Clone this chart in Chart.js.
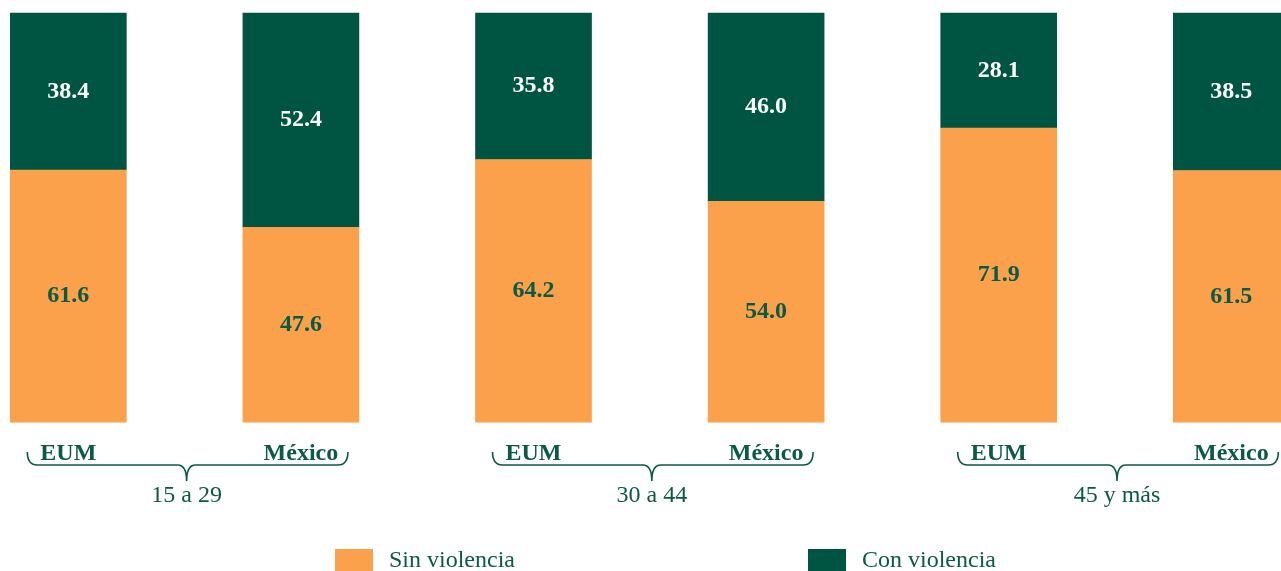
<!DOCTYPE html>
<html>
<head>
<meta charset="utf-8">
<script src="https://cdn.jsdelivr.net/npm/chart.js@4"></script>
<style>
  html, body { margin: 0; padding: 0; background: #fff; }
  #wrap { width: 1281px; height: 571px; position: relative; }
</style>
</head>
<body>
<div id="wrap"><canvas id="violenceChart"></canvas></div>
<script>
const groups = ['15 a 29', '30 a 44', '45 y más'];
const places = ['EUM', 'México', 'EUM', 'México', 'EUM', 'México'];
const sinViolencia = [61.6, 47.6, 64.2, 54.0, 71.9, 61.5];
const conViolencia = [38.4, 52.4, 35.8, 46.0, 28.1, 38.5];
const seriesLabels = ['Sin violencia', 'Con violencia'];

const orange = '#fba04b';
const green = '#005542';
const textGreen = '#0a5a45';
const serif = "'Liberation Serif', 'Times New Roman', serif";

// value labels in the middle of each segment
const valueLabels = {
    id: 'valueLabels',
    afterDatasetsDraw(chart) {
        const ctx = chart.ctx;
        ctx.save();
        ctx.font = 'bold 24px ' + serif;
        ctx.textAlign = 'center';
        ctx.textBaseline = 'middle';
        chart.data.datasets.forEach((ds, di) => {
            chart.getDatasetMeta(di).data.forEach((bar, i) => {
                ctx.fillStyle = di === 0 ? textGreen : '#ffffff';
                ctx.fillText(ds.data[i].y.toFixed(1), bar.x, (bar.y + bar.base) / 2);
            });
        });
        ctx.restore();
    }
};

// braces under each pair of bars, group names, legend
const braces = {
    id: 'braces',
    afterDraw(chart) {
        const ctx = chart.ctx;
        const xs = chart.scales.x;
        ctx.save();
        ctx.strokeStyle = textGreen;
        ctx.lineWidth = 1.6;
        ctx.fillStyle = textGreen;
        ctx.font = '24px ' + serif;
        ctx.textAlign = 'center';
        ctx.textBaseline = 'middle';
        groups.forEach((g, gi) => {
            const a = xs.getPixelForValue(gi * 2);
            const b = xs.getPixelForValue(gi * 2 + 1);
            const x0 = a - 41, x1 = b + 47;
            const cx = (a + b) / 2 + 2;
            const top = 452, mid = 465, tip = 481;
            ctx.beginPath();
            ctx.moveTo(x0, top);
            ctx.quadraticCurveTo(x0, mid, x0 + 10, mid);
            ctx.lineTo(cx - 9, mid);
            ctx.quadraticCurveTo(cx, mid, cx, tip);
            ctx.quadraticCurveTo(cx, mid, cx + 9, mid);
            ctx.lineTo(x1 - 10, mid);
            ctx.quadraticCurveTo(x1, mid, x1, top);
            ctx.stroke();
            ctx.fillText(g, cx, 496);
        });

        // legend
        const items = [
            { x: 335, color: orange, label: seriesLabels[0] },
            { x: 808, color: green, label: seriesLabels[1] }
        ];
        ctx.textAlign = 'left';
        items.forEach(it => {
            ctx.fillStyle = it.color;
            ctx.fillRect(it.x, 549, 38, 24);
            ctx.fillStyle = textGreen;
            ctx.fillText(it.label, it.x + 54, 561);
        });
        ctx.restore();
    }
};

const ctx = document.getElementById('violenceChart').getContext('2d');

const chart = new Chart(ctx, {
    type: 'bar',
    data: {
        datasets: [
            {
                label: seriesLabels[0],
                data: sinViolencia.map((v, i) => ({ x: i, y: v })),
                backgroundColor: orange,
                barThickness: 116,
                clip: false
            },
            {
                label: seriesLabels[1],
                data: conViolencia.map((v, i) => ({ x: i, y: v })),
                backgroundColor: green,
                barThickness: 116,
                clip: false
            }
        ]
    },
    options: {
        responsive: true,
        maintainAspectRatio: false,
        animation: false,
        layout: {
            padding: { top: 13, bottom: 86, left: 0, right: 0 }
        },
        scales: {
            x: {
                type: 'linear',
                stacked: true,
                offset: false,
                min: -0.2937,
                max: 5.2136,
                afterBuildTicks: (axis) => {
                    axis.ticks = places.map((_, i) => ({ value: i }));
                },
                afterFit: (axis) => {
                    // let the bars use the full width
                    axis.paddingLeft = 0;
                    axis.paddingRight = 0;
                },
                grid: { display: false, drawTicks: false },
                border: { display: false },
                ticks: {
                    autoSkip: false,
                    maxRotation: 0,
                    padding: 17,
                    color: textGreen,
                    font: { family: serif, size: 24, weight: 'bold' },
                    callback: (value) => places[value]
                }
            },
            y: {
                stacked: true,
                min: 0,
                max: 100,
                display: false
            }
        },
        plugins: {
            legend: { display: false },
            tooltip: { enabled: false }
        }
    },
    plugins: [valueLabels, braces]
});
</script>
</body>
</html>
